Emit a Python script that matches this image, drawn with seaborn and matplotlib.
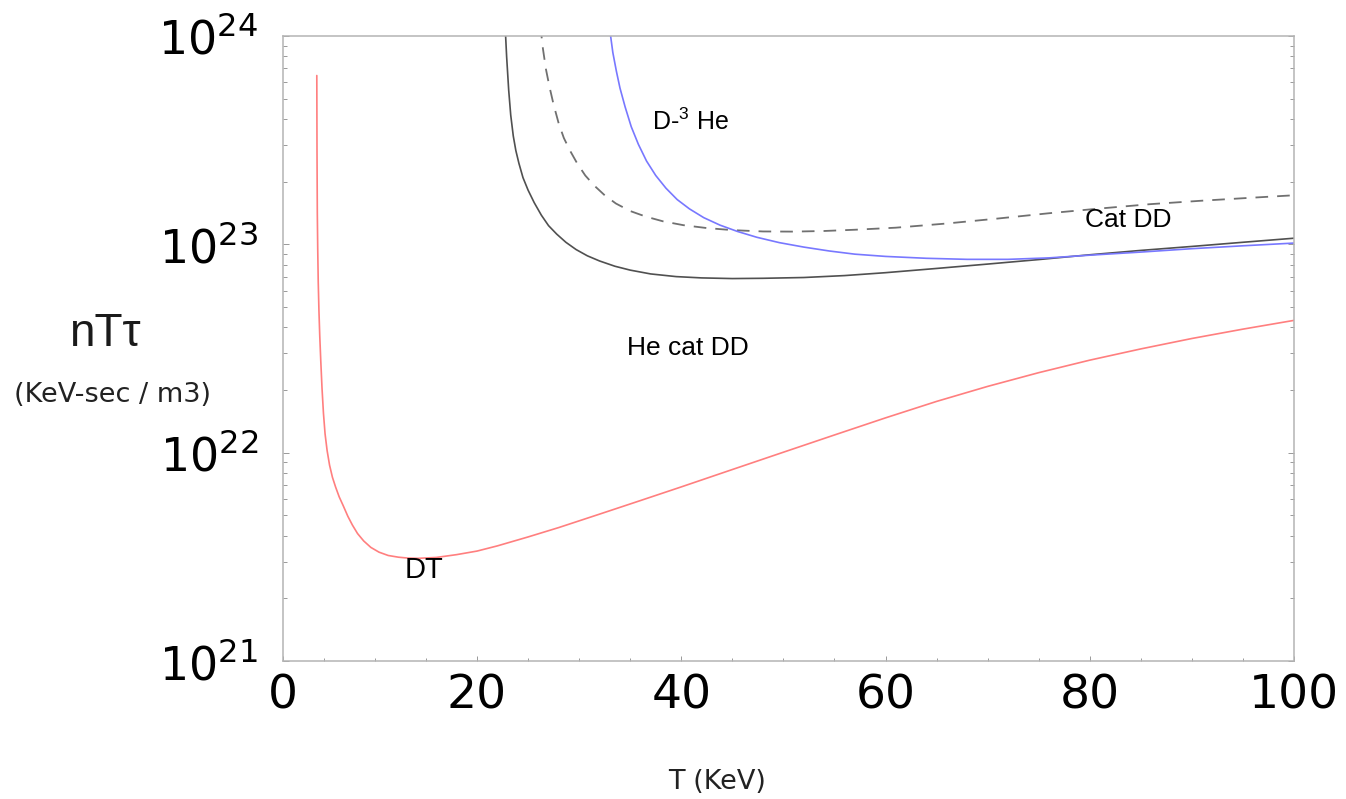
import matplotlib
matplotlib.use("Agg")
import matplotlib.pyplot as plt
import seaborn as sns
import pandas as pd
from matplotlib.ticker import FixedLocator, FixedFormatter, LogLocator, NullFormatter

# ---------------- data ----------------
dt_T = [4.31, 4.33, 4.36, 4.40, 4.45, 4.52, 4.60, 4.70, 4.82, 4.96, 5.12, 5.32,
        5.56, 5.84, 6.15, 6.5, 6.9, 7.35, 7.8, 8.3, 8.9, 9.6, 10.4, 11.3, 12.3,
        13.2, 14.2, 16.0, 18.0, 20.0, 22.0, 25.0, 28.0, 32.0, 36.0, 40.0, 45.0,
        50.0, 55.0, 60.0, 65.0, 70.0, 75.0, 80.0, 85.0, 90.0, 95.0, 100.0]
dt_v = [6.46e23, 2.82e23, 1.41e23, 9.55e22, 6.61e22, 4.79e22, 3.63e22, 2.75e22,
        2.04e22, 1.55e22, 1.23e22, 1.023e22, 8.71e21, 7.62e21, 6.84e21, 6.14e21,
        5.56e21, 4.95e21, 4.49e21, 4.09e21, 3.77e21, 3.51e21, 3.33e21, 3.21e21,
        3.15e21, 3.12e21, 3.11e21, 3.14e21, 3.24e21, 3.37e21, 3.57e21, 3.94e21,
        4.37e21, 5.07e21, 5.89e21, 6.85e21, 8.30e21, 1.005e22, 1.216e22, 1.469e22,
        1.762e22, 2.080e22, 2.421e22, 2.780e22, 3.148e22, 3.532e22, 3.917e22,
        4.315e22]

hecat_T = [22.75, 22.9, 23.1, 23.3, 23.55, 23.8, 24.1, 24.5, 25.0, 25.6, 26.3,
           27.0, 27.8, 28.7, 29.7, 30.8, 32.0, 33.5, 35.0, 37.0, 39.5, 42.0,
           45.0, 48.0, 52.0, 56.0, 60.0, 65.0, 70.0, 75.0, 80.0, 85.0, 90.0,
           95.0, 100.0]
hecat_v = [1.12e24, 7.94e23, 5.50e23, 4.17e23, 3.31e23, 2.82e23, 2.45e23, 2.09e23,
           1.82e23, 1.585e23, 1.38e23, 1.23e23, 1.12e23, 1.023e23, 9.44e22,
           8.81e22, 8.32e22, 7.85e22, 7.52e22, 7.21e22, 7.00e22, 6.90e22, 6.85e22,
           6.87e22, 6.93e22, 7.08e22, 7.31e22, 7.66e22, 8.04e22, 8.45e22, 8.91e22,
           9.35e22, 9.77e22, 1.023e23, 1.07e23]

catdd_T = [26.2, 26.45, 26.75, 27.1, 27.5, 28.0, 28.5, 29.1, 29.8, 30.6, 31.5,
           32.5, 33.6, 35.0, 36.5, 38.2, 40.2, 42.5, 45.0, 48.0, 51.0, 54.0,
           57.0, 61.0, 66.0, 71.0, 76.0, 81.0, 86.0, 91.0, 95.5, 100.0]
catdd_v = [1.12e24, 8.71e23, 6.92e23, 5.69e23, 4.68e23, 3.80e23, 3.24e23, 2.82e23,
           2.45e23, 2.14e23, 1.91e23, 1.72e23, 1.57e23, 1.445e23, 1.36e23, 1.29e23,
           1.236e23, 1.197e23, 1.17e23, 1.153e23, 1.151e23, 1.159e23, 1.175e23,
           1.202e23, 1.259e23, 1.33e23, 1.41e23, 1.486e23, 1.56e23, 1.62e23,
           1.67e23, 1.72e23]

dhe3_T = [33.0, 33.3, 33.65, 34.0, 34.5, 35.1, 35.8, 36.6, 37.5, 38.5, 39.6,
          40.8, 42.2, 43.8, 45.5, 47.4, 49.6, 52.0, 54.5, 57.0, 60.0, 64.0,
          68.0, 72.0, 76.0, 80.0, 85.0, 90.0, 95.0, 100.0]
dhe3_v = [1.07e24, 8.32e23, 6.76e23, 5.62e23, 4.57e23, 3.67e23, 3.02e23, 2.51e23,
          2.14e23, 1.86e23, 1.64e23, 1.48e23, 1.343e23, 1.236e23, 1.153e23,
          1.081e23, 1.019e23, 9.70e22, 9.29e22, 8.97e22, 8.75e22, 8.57e22, 8.47e22,
          8.47e22, 8.61e22, 8.87e22, 9.18e22, 9.53e22, 9.84e22, 1.014e23]

x_major = [1, 20, 40, 60, 80, 100]
x_major_labels = ["0", "20", "40", "60", "80", "100"]
x_minor = [5, 10, 15, 25, 30, 35, 45, 50, 55, 65, 70, 75, 85, 90, 95]
y_major = [1e21, 1e22, 1e23, 1e24]
y_major_labels = [r"$\mathregular{10^{21}}$", r"$\mathregular{10^{22}}$",
                  r"$\mathregular{10^{23}}$", r"$\mathregular{10^{24}}$"]

# ---------------- figure ----------------
sns.set_style("ticks")
plt.rcParams['font.family'] = ['DejaVu Sans']

W, H = 1346, 799
fig = plt.figure(figsize=(W / 100, H / 100), dpi=100)
L, R, T_, B = 283, 1294, 36, 661
ax = fig.add_axes([L / W, 1 - B / H, (R - L) / W, (B - T_) / H])

def draw(Tv, vv, color, ls, lw):
    df = pd.DataFrame({"T": Tv, "v": vv})
    sns.lineplot(data=df, x="T", y="v", ax=ax, color=color, linewidth=lw,
                 linestyle=ls, sort=False, estimator=None)

draw(dt_T, dt_v, "#ff7f7f", "-", 1.2)
draw(hecat_T, hecat_v, "#505050", "-", 1.2)
draw(catdd_T, catdd_v, "#707070", (0, (7, 5)), 1.3)
draw(dhe3_T, dhe3_v, "#7878ff", "-", 1.2)

ax.set_yscale("log")
ax.set_xlim(1, 100)
ax.set_ylim(1e21, 1e24)
ax.set_xlabel("")
ax.set_ylabel("")

ax.xaxis.set_major_locator(FixedLocator(x_major))
ax.xaxis.set_major_formatter(FixedFormatter(x_major_labels))
ax.xaxis.set_minor_locator(FixedLocator(x_minor))
ax.yaxis.set_major_locator(FixedLocator(y_major))
ax.yaxis.set_major_formatter(FixedFormatter(y_major_labels))
ax.yaxis.set_minor_locator(LogLocator(base=10, subs=range(2, 10)))
ax.yaxis.set_minor_formatter(NullFormatter())

for s in ax.spines.values():
    s.set_visible(True)
    s.set_color("#b4b4b4")
    s.set_linewidth(1.1)

ax.tick_params(axis="both", which="both", direction="in", color="#999999",
               labelcolor="black", width=0.7)
ax.tick_params(axis="y", which="both", left=True, right=True)
ax.tick_params(axis="y", which="major", length=4.3, pad=18, labelsize=33)
ax.tick_params(axis="y", which="minor", length=2.6)
ax.tick_params(axis="x", which="major", length=3.6, pad=9, labelsize=34)
ax.tick_params(axis="x", which="minor", length=2.2)

# curve annotations
ann = dict(family=["Liberation Sans", "DejaVu Sans"], color="black", va="baseline")
ax.text(37.1, 3.54e23, r"D-$\mathregular{^{3}}$ He", fontsize=18, **ann)
ax.text(34.7, 2.95e22, "He cat DD", fontsize=19, **ann)
ax.text(12.95, 2.51e21, "DT", fontsize=21, **ann)
ax.text(79.55, 1.21e23, "Cat DD", fontsize=19, **ann)

# axis titles
fig.text(105 / W, 1 - 334 / H, "nTτ", fontsize=33, ha="center", va="center",
         family=["Liberation Sans", "DejaVu Sans"], color="#1a1a1a")
fig.text(113 / W, 1 - 395 / H, "(KeV-sec / m3)", fontsize=19.5, ha="center",
         va="center", color="#222222")
fig.text(717 / W, 1 - 782 / H, "T (KeV)", fontsize=19.5, ha="center", va="center",
         color="#222222")

fig.savefig("out.png", dpi=100)
